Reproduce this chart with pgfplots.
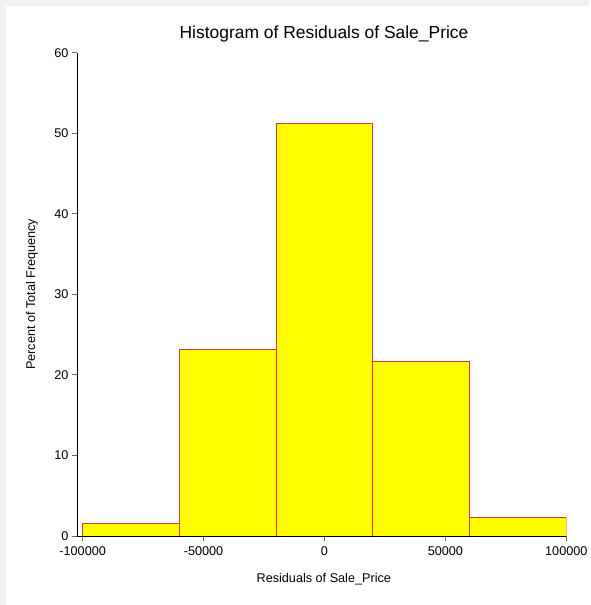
\documentclass[border=0pt]{standalone}
\usepackage{pgfplots}
\pgfplotsset{compat=1.18}
\usepackage{fontspec}
\setmainfont{Liberation Sans}
\definecolor{bg}{RGB}{240,240,240}
\definecolor{barline}{RGB}{200,60,60}
\definecolor{barfill}{RGB}{255,255,0}
\begin{document}
\begin{tikzpicture}[x=1bp,y=1bp]
\fill[bg] (0,0) rectangle (589,605);
\fill[white] (6,0) rectangle (589,599);
\begin{axis}[
  at={(77bp,69bp)}, anchor=south west,
  scale only axis, width=489.3bp, height=483.3bp,
  xmin=-102350, xmax=100000, ymin=0, ymax=60,
  axis x line*=bottom, axis y line*=left,
  axis line style={black, line width=0.8bp, -},
  axis on top,
  tick align=outside, major tick length=5bp,
  every tick/.style={black!60, line width=0.8bp},
  xtick={-100000,-50000,0,50000,100000},
  ytick={0,10,...,60},
  scaled ticks=false,
  /pgf/number format/assume math mode=true,
  xticklabel style={/pgf/number format/.cd, fixed, 1000 sep={}, /tikz/.cd, yshift=-2bp},
  tick label style={font=\fontsize{12.7}{14}\selectfont},
  title={Histogram of Residuals of Sale\_Price},
  title style={font=\fontsize{17.5}{20}\selectfont, at={(axis description cs:0.5048,1.018)}, anchor=base, inner sep=0pt},
  xlabel={Residuals of Sale\_Price},
  xlabel style={font=\fontsize{12.7}{14}\selectfont, at={(axis description cs:0.5044,-0.0966)}, anchor=base, inner sep=0pt},
  ylabel={Percent of Total Frequency},
  ylabel style={font=\fontsize{12.7}{14}\selectfont, at={(axis description cs:-0.0858,0.5)}, anchor=base, inner sep=0pt},
]
\addplot[ybar interval, fill=barfill, draw=barline, line width=0.9bp]
  coordinates {(-100000,1.53) (-60000,23.18) (-20000,51.23) (20000,21.69) (60000,2.32) (100000,2.32)};
\end{axis}
\end{tikzpicture}
\end{document}
